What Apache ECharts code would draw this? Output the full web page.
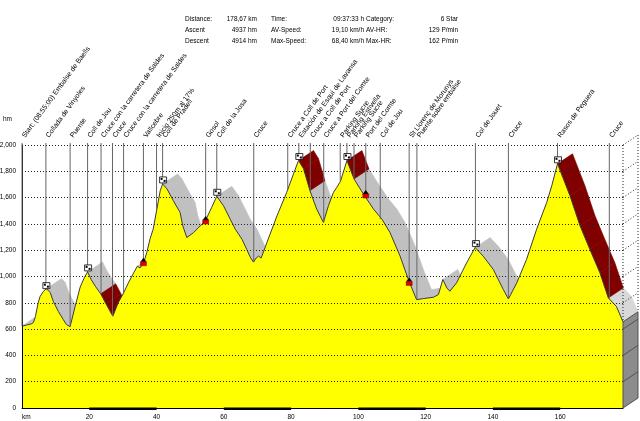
<!DOCTYPE html>
<html>
<head>
<meta charset="utf-8">
<script src="https://cdn.jsdelivr.net/npm/echarts/dist/echarts.min.js"></script>
<style>
  html, body { margin: 0; padding: 0; background: #fff; }
  #chart { width: 640px; height: 421px; }
</style>
</head>
<body>
<div id="chart"></div>
<script>
// elevation profile (km / m)
const profileKm = [0.0, 1.3, 2.8, 3.4, 4.0, 4.8, 5.4, 6.3, 7.2, 7.8,
  8.4, 9.3, 10.8, 12.3, 13.2, 14.3, 15.8, 17.3, 18.5, 19.5,
  20.6, 21.8, 23.4, 25.0, 27.0, 28.6, 30.2, 31.6, 33.2, 34.3,
  35.1, 36.2, 37.1, 38.1, 39.0, 40.1, 41.1, 41.8, 43.1, 45.0,
  47.0, 47.8, 49.0, 49.5, 51.0, 53.0, 54.5, 56.4, 57.9, 59.9,
  61.9, 63.4, 65.4, 66.8, 67.8, 68.8, 69.6, 70.3, 71.1, 72.8,
  75.8, 78.7, 80.7, 82.2, 83.7, 85.6, 87.6, 89.6, 91.1, 92.6,
  93.6, 94.1, 94.7, 96.6, 98.7, 101.5, 104.5, 107.0, 109.4, 112.4,
  115.1, 117.3, 119.3, 122.3, 123.8, 125.1, 126.3, 127.2, 129.2, 132.2,
  134.7, 137.1, 140.1, 143.1, 144.6, 147.1, 150.0, 153.0, 156.0, 157.5,
  159.2, 162.9, 165.9, 168.8, 171.8, 174.3, 176.7, 178.67];
const profileElev = [623, 630, 640, 650, 696, 800, 849, 885, 906, 895,
  877, 811, 734, 671, 635, 618, 773, 920, 990, 1035,
  975, 926, 868, 790, 698, 800, 875, 950, 1028, 1079,
  1065, 1105, 1183, 1290, 1360, 1513, 1653, 1704, 1666, 1576,
  1487, 1385, 1296, 1283, 1334, 1385, 1423, 1526, 1610, 1538,
  1436, 1360, 1283, 1207, 1150, 1109, 1140, 1155, 1140, 1258,
  1461, 1640, 1780, 1882, 1819, 1653, 1513, 1411, 1538, 1640,
  1679, 1690, 1725, 1882, 1742, 1627, 1513, 1436, 1334, 1155,
  960, 824, 832, 842, 862, 977, 913, 888, 952, 1105,
  1220, 1155, 1054, 900, 829, 952, 1130, 1360, 1564, 1691,
  1857, 1614, 1385, 1207, 1028, 837, 773, 655];

// marked sections of the route
const highlightKm = [[23.4, 27.0], [82.2, 85.6], [96.6, 98.7], [159.2, 174.3]];
const paleKm = [[174.3, 178.67]];

// waypoints
const waypointKm = [0, 7.1, 14.3, 19.5, 23.5, 26.9, 30.2, 36.1, 40.0, 41.8,
  54.6, 57.9, 68.9, 79.0, 82.3, 85.7, 89.7, 94.6, 96.6, 98.7,
  102.2, 106.5, 115.1, 117.4, 134.8, 144.6, 159.2, 174.6];
const waypointElev = [623, 900, 620, 1035, 868, 700, 875, 1105, 1513, 1704,
  1423, 1610, 1110, 1660, 1882, 1650, 1411, 1725, 1882, 1742,
  1620, 1436, 955, 826, 1220, 829, 1857, 830];
const waypointNames = [
  'Start: (08:55:00) Embalse de Baells', 'Collada de Vinyoles', 'Puente', 'Coll de Jou',
  'Cruce con la carretera de Saldes', 'Cruce', 'Cruce con la carretera de Saldes', 'Vallcebre',
  'Inicio 250m al 17%', 'Coll de Pradell', 'Gosol', 'Coll de la Josa', 'Cruce',
  'Cruce a Coll de Port', 'Estación de Esquí de Lavansa', 'Cruce a Coll de Port',
  'Cruce a Port del Comte', 'Parking Sucre', 'Parking Estivella', 'Parking Sucre',
  'Port del Comte', 'Col de Jou', 'St Llorenç de Morunys', 'Puente sobre embalse',
  'Col de Jouet', 'Cruce', 'Rasos de Peguera', 'Cruce'];
const waypointIcons = ['', 'flag', '', 'flag', '', '', '', 'town', '', 'flag',
  'town', 'flag', '', '', 'flag', '', '', '', 'flag', '',
  'town', '', 'town', '', 'flag', '', 'flag', ''];

// axes
const elevTicks = [0, 200, 400, 600, 800, 1000, 1200, 1400, 1600, 1800, 2000];
const kmStep = 20;
const totalKm = 178.67;
const scaleBars = [[20, 40], [60, 80], [100, 120], [140, 160]];

// summary block
const statRows = [
  ['Distance:', '178,67 km', 'Time:', '09:37:33 h', 'Category:', '6 Star'],
  ['Ascent', '4937 hm', 'AV-Speed:', '19,10 km/h', 'AV-HR:', '129 P/min'],
  ['Descent', '4914 hm', 'Max-Speed:', '68,40 km/h', 'Max-HR:', '162 P/min']
];

const FONT = '"Liberation Sans", Arial, sans-serif';
const DEPTH = [15, -10];
const LABEL_ANGLE = 54 * Math.PI / 180;
const statColX = [185, 257, 271, 364, 366, 458];
const statColAlign = ['left', 'right', 'left', 'right', 'left', 'right'];
const statRowY = [19, 30, 41];
const SURFACE_COLORS = ['#c0c0c0', '#d8d8d8', '#800000'];

function inRanges(v, ranges) {
  return ranges.some(r => v >= r[0] && v <= r[1]);
}

function segmentKind(k0, k1) {
  const mid = (k0 + k1) / 2;
  if (inRanges(mid, highlightKm)) return 2;
  if (inRanges(mid, paleKm)) return 1;
  return 0;
}

// top faces of the ribbon; marked sections are painted last
const segments = profileKm.slice(0, -1)
  .map((k, i) => [k, profileElev[i], profileKm[i + 1], profileElev[i + 1], segmentKind(k, profileKm[i + 1])])
  .sort((a, b) => a[4] - b[4]);

function renderSurface(params, api) {
  const a = api.coord([api.value(0), api.value(1)]);
  const b = api.coord([api.value(2), api.value(3)]);
  const cross = (b[0] - a[0]) * DEPTH[1] - (b[1] - a[1]) * DEPTH[0];
  if (cross >= 0) return null;
  const fill = SURFACE_COLORS[api.value(4)];
  return {
    type: 'polygon',
    shape: { points: [a, b, [b[0] + DEPTH[0], b[1] + DEPTH[1]], [a[0] + DEPTH[0], a[1] + DEPTH[1]]] },
    style: { fill: fill, stroke: fill, lineWidth: 0.6 }
  };
}

function renderWall(params, api) {
  const kmEnd = api.value(0);
  const elevEnd = api.value(1);
  const dx = DEPTH[0], dy = DEPTH[1];
  const base = api.coord([kmEnd, 0]);
  const top = api.coord([kmEnd, elevEnd]);
  const gTop = api.coord([kmEnd, elevTicks[elevTicks.length - 1]]);
  const dotted = { stroke: '#222', lineWidth: 1, lineDash: [1, 2] };
  const children = [{
    type: 'polygon',
    shape: { points: [base, top, [top[0] + dx, top[1] + dy], [base[0] + dx, base[1] + dy]] },
    style: { fill: '#8c8c8c', stroke: '#505050', lineWidth: 1 }
  }];
  elevTicks.forEach(v => {
    const p = api.coord([kmEnd, v]);
    if (v > 0 && v < elevEnd) {
      children.push({ type: 'line', shape: { x1: p[0], y1: p[1], x2: p[0] + dx, y2: p[1] + dy },
        style: { stroke: '#505050', lineWidth: 1 } });
    } else if (v > elevEnd) {
      children.push({ type: 'line', shape: { x1: p[0], y1: p[1], x2: p[0] + dx, y2: p[1] + dy }, style: dotted });
    }
  });
  children.push({ type: 'line', shape: { x1: top[0], y1: gTop[1], x2: top[0], y2: top[1] }, style: dotted });
  children.push({ type: 'line', shape: { x1: top[0] + dx, y1: gTop[1] + dy, x2: top[0] + dx, y2: top[1] + dy }, style: dotted });
  return { type: 'group', children: children };
}

function flagIcon(x, y) {
  return [
    { type: 'rect', shape: { x: x - 3, y: y - 7, width: 7, height: 6 }, style: { fill: '#fff', stroke: '#000', lineWidth: 0.8 } },
    { type: 'rect', shape: { x: x - 2, y: y - 6, width: 2, height: 2 }, style: { fill: '#000' } },
    { type: 'rect', shape: { x: x + 1, y: y - 4, width: 2, height: 2 }, style: { fill: '#000' } }
  ];
}

function townIcon(x, y) {
  return [
    { type: 'polygon', shape: { points: [[x - 3, y - 1], [x, y - 5], [x + 3, y - 1]] }, style: { fill: '#000' } },
    { type: 'rect', shape: { x: x - 3, y: y - 1, width: 6, height: 4 }, style: { fill: '#e00000', stroke: '#600', lineWidth: 0.5 } }
  ];
}

function renderWaypoint(params, api) {
  const i = api.value(2);
  const top = api.coord([api.value(0), elevTicks[elevTicks.length - 1]]);
  const foot = api.coord([api.value(0), api.value(1)]);
  let children = [
    { type: 'line', shape: { x1: top[0], y1: top[1] - 2, x2: foot[0], y2: foot[1] },
      style: { stroke: '#666', lineWidth: 1 } },
    { type: 'text', x: top[0] + 4.5, y: top[1] - 6, rotation: LABEL_ANGLE,
      style: { text: waypointNames[i], fontSize: 7, fontFamily: FONT, fill: '#000', align: 'left', verticalAlign: 'bottom' } }
  ];
  if (waypointIcons[i] === 'flag') children = children.concat(flagIcon(foot[0], foot[1]));
  if (waypointIcons[i] === 'town') children = children.concat(townIcon(foot[0], foot[1]));
  return { type: 'group', children: children };
}

function renderBar(params, api) {
  const a = api.coord([api.value(0), 0]);
  const b = api.coord([api.value(1), 0]);
  return { type: 'rect', shape: { x: a[0], y: a[1] - 0.5, width: b[0] - a[0], height: 2.5 }, style: { fill: '#000' } };
}

const statText = [];
statRows.forEach((row, r) => {
  row.forEach((txt, c) => {
    statText.push({
      type: 'text', x: statColX[c], y: statRowY[r],
      style: { text: txt, fontSize: 6.5, fontFamily: FONT, fill: '#000', align: statColAlign[c], verticalAlign: 'middle' }
    });
  });
});

const chart = echarts.init(document.getElementById('chart'));
chart.setOption({
  animation: false,
  backgroundColor: '#fff',
  textStyle: { fontFamily: FONT },
  grid: { left: 22, right: 17, top: 145, bottom: 13, containLabel: false, outerBoundsMode: 'none' },
  graphic: statText,
  xAxis: {
    type: 'value', min: 0, max: totalKm, interval: kmStep, z: 3,
    axisLine: { show: true, lineStyle: { color: '#000', width: 1 } },
    axisTick: { show: false },
    splitLine: { show: false },
    axisLabel: {
      fontSize: 6.5, color: '#000', margin: 6, showMaxLabel: false, alignMinLabel: 'left',
      formatter: v => (v === 0 ? 'km' : String(v))
    }
  },
  yAxis: {
    type: 'value', min: elevTicks[0], max: elevTicks[elevTicks.length - 1], interval: elevTicks[1] - elevTicks[0], z: 3,
    name: 'hm', nameLocation: 'end', nameGap: 22,
    nameTextStyle: { fontSize: 6.5, color: '#000', align: 'right', padding: [0, 10, 0, 0] },
    axisLine: { show: true, lineStyle: { color: '#000', width: 1 } },
    axisTick: { show: false },
    splitLine: { show: true, lineStyle: { color: '#222', width: 1, type: [1, 2] } },
    axisLabel: { fontSize: 6.5, color: '#000', margin: 6 }
  },
  series: [
    {
      type: 'custom', name: 'surface', z: 1, clip: false,
      renderItem: renderSurface,
      encode: { x: [0, 2], y: [1, 3] },
      data: segments
    },
    {
      type: 'custom', name: 'wall', z: 3, clip: false,
      renderItem: renderWall,
      data: [[profileKm[profileKm.length - 1], profileElev[profileElev.length - 1]]]
    },
    {
      type: 'line', name: 'profile', z: 2,
      showSymbol: false, symbol: 'none',
      lineStyle: { color: '#3a3a3a', width: 1 },
      areaStyle: { color: '#ffff00', opacity: 1 },
      data: profileKm.map((k, i) => [k, profileElev[i]])
    },
    {
      type: 'custom', name: 'waypoints', z: 4, clip: false,
      renderItem: renderWaypoint,
      data: waypointKm.map((k, i) => [k, waypointElev[i], i])
    },
    {
      type: 'custom', name: 'scale', z: 4, clip: false,
      renderItem: renderBar,
      encode: { x: [0, 1] },
      data: scaleBars
    }
  ]
});
</script>
</body>
</html>
